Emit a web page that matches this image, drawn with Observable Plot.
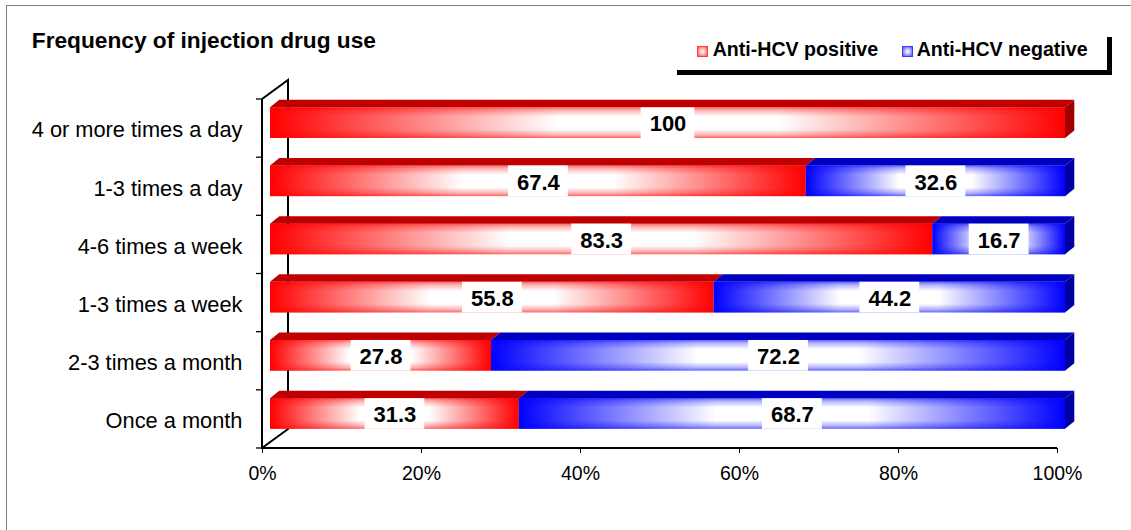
<!DOCTYPE html>
<html>
<head>
<meta charset="utf-8">
<script src="https://cdn.jsdelivr.net/npm/d3@7"></script>
<script src="https://cdn.jsdelivr.net/npm/@observablehq/plot@0.6"></script>
<style>
html, body { margin: 0; padding: 0; background: #fff; }
#wrap { position: relative; width: 1131px; height: 530px; overflow: hidden; background: #fff;
  font-family: "Liberation Sans", Arial, sans-serif; color: #000; }
#frame { position: absolute; left: 5.5px; top: 5px; width: 1300px; height: 700px;
  border-top: 1.6px solid #808080; border-left: 1.6px solid #808080; }
#chart { position: absolute; left: 0; top: 0; }
#title { position: absolute; left: 31.8px; top: 29.3px; font-size: 22.7px; line-height: 22.7px;
  font-weight: bold; white-space: nowrap; }
.lg-text { position: absolute; top: 40.4px; font-size: 19.6px; line-height: 19.6px; font-weight: bold; white-space: nowrap; }
.lg-mark { position: absolute; top: 46px; width: 11px; height: 11px; box-sizing: border-box; }
.lg-line { position: absolute; background: #000; }
</style>
</head>
<body>
<div id="wrap">
  <div id="frame"></div>
  <div id="chart"></div>
  <div id="title">Frequency of injection drug use</div>
  <div id="legend"></div>
</div>
<script>
// ---- data ----
const categories = ["4 or more times a day", "1-3 times a day", "4-6 times a week", "1-3 times a week", "2-3 times a month", "Once a month"];
const positive = [100, 67.4, 83.3, 55.8, 27.8, 31.3];
const negative = [0, 32.6, 16.7, 44.2, 72.2, 68.7];
const seriesNames = ["Anti-HCV positive", "Anti-HCV negative"];
const xTicks = [0, 20, 40, 60, 80, 100];

// ---- style constants ----
const front = ["#ff0000", "#0000ff"];
const topC = ["#c00000", "#0000c0"];
const sideC = ["#a00000", "#0000a0"];
const DX = 8, DEPTH_X = 9.3, DEPTH_Y = 7.5, WALL_X = 26, WALL_Y = 19;
const INSET_TOP = 8.3, INSET_BOTTOM = 19.2;
const LABEL_FONT = 22;
const FONT = '"Liberation Sans", Arial, sans-serif';

const segs = categories.flatMap((c, i) => [
  {cat: c, s: 0, x1: 0, x2: positive[i], value: positive[i]},
  {cat: c, s: 1, x1: positive[i], x2: positive[i] + negative[i], value: negative[i]}
]).filter(d => d.value > 0);
const posSeg = segs.filter(d => d.s === 0);
const negSeg = segs.filter(d => d.s === 1);

const bwOf = y => typeof y.bandwidth === "function" ? y.bandwidth() : y.bandwidth;

function defs() {
  const g = d3.create("svg:defs");
  ["red", "blue"].forEach((name, k) => {
    const h = g.append("linearGradient").attr("id", "h" + name).attr("x1", 0).attr("y1", 0).attr("x2", 1).attr("y2", 0);
    [[0, front[k], 1], [0.36, "#ffffff", 1], [0.64, "#ffffff", 1], [1, front[k], 1]].forEach(([o, c, a]) =>
      h.append("stop").attr("offset", o).attr("stop-color", c).attr("stop-opacity", a));
    const v = g.append("linearGradient").attr("id", "v" + name).attr("x1", 0).attr("y1", 0).attr("x2", 0).attr("y2", 1);
    [[0, front[k], 0.6], [0.1, front[k], 0.3], [0.3, front[k], 0], [0.72, front[k], 0], [0.9, front[k], 0.3], [1, front[k], 0.6]].forEach(([o, c, a]) =>
      v.append("stop").attr("offset", o).attr("stop-color", c).attr("stop-opacity", a));
  });
  return g.node();
}

function walls(index, scales) {
  const x = scales.x, y = scales.y, bw = bwOf(y);
  const x0 = x(0), yT = y(categories[0]), yB = y(categories[categories.length - 1]) + bw;
  const g = d3.create("svg:g");
  g.append("path")
    .attr("d", `M${x0},${yT}L${x0 + WALL_X},${yT - WALL_Y}L${x0 + WALL_X},${yB - WALL_Y}L${x0},${yB}`)
    .attr("fill", "none").attr("stroke", "#000").attr("stroke-width", 2);
  return g.node();
}

function faces(index, scales) {
  const x = scales.x, y = scales.y, bw = bwOf(y);
  const g = d3.create("svg:g");
  for (const d of segs) {
    const yt = y(d.cat) + INSET_TOP;
    const xa = x(d.x1) + DX, xb = x(d.x2) + DX;
    g.append("path")
      .attr("d", `M${xa},${yt}L${xb},${yt}L${xb + DEPTH_X},${yt - DEPTH_Y}L${xa + DEPTH_X},${yt - DEPTH_Y}Z`)
      .attr("fill", topC[d.s]);
  }
  categories.forEach((c, i) => {
    const total = positive[i] + negative[i];
    const s = negative[i] > 0 ? 1 : 0;
    const yt = y(c) + INSET_TOP, yb = y(c) + bw - INSET_BOTTOM;
    const xb = x(total) + DX;
    g.append("path")
      .attr("d", `M${xb},${yt}L${xb + DEPTH_X},${yt - DEPTH_Y}L${xb + DEPTH_X},${yb - DEPTH_Y}L${xb},${yb}Z`)
      .attr("fill", sideC[s]);
  });
  return g.node();
}

function axesFront(index, scales) {
  const x = scales.x, y = scales.y, bw = bwOf(y);
  const x0 = x(0), x1 = x(100);
  const yT = y(categories[0]), yB = y(categories[categories.length - 1]) + bw;
  const g = d3.create("svg:g").attr("stroke", "#000");
  g.append("line").attr("x1", x0).attr("x2", x0).attr("y1", yT).attr("y2", yB).attr("stroke-width", 2);
  g.append("line").attr("x1", x0 - 1).attr("x2", x1).attr("y1", yB).attr("y2", yB).attr("stroke-width", 2);
  const bounds = categories.map(c => y(c)).concat([yB]);
  bounds.forEach(b => g.append("line").attr("x1", x0 - 6).attr("x2", x0).attr("y1", b).attr("y2", b).attr("stroke-width", 1.3));
  return g.node();
}

const ctx = document.createElement("canvas").getContext("2d");
ctx.font = `bold ${LABEL_FONT}px ${FONT}`;
function labelBoxes(index, scales) {
  const x = scales.x, y = scales.y, bw = bwOf(y);
  const g = d3.create("svg:g").attr("fill", "#fff");
  for (const d of segs) {
    const w = ctx.measureText(String(d.value)).width + 17;
    const cx = x((d.x1 + d.x2) / 2) + DX;
    const yt = y(d.cat) + INSET_TOP;
    g.append("rect").attr("x", cx - w / 2).attr("y", yt).attr("width", w)
      .attr("height", bw - INSET_TOP - INSET_BOTTOM);
  }
  return g.node();
}

const plot = Plot.plot({
  width: 1131,
  height: 530,
  marginLeft: 262,
  marginRight: 74,
  marginTop: 99,
  marginBottom: 82,
  style: {fontFamily: FONT, fontSize: "19.5px", color: "#000", background: "transparent", overflow: "visible"},
  x: {domain: [0, 100], ticks: xTicks, tickFormat: d => d + "%", tickSize: 5, tickPadding: 12.5, label: null, line: false},
  y: {domain: categories, type: "band", padding: 0, round: false, axis: null},
  marks: [
    defs,
    walls,
    Plot.barX(posSeg, {x1: "x1", x2: "x2", y: "cat", fill: "url(#hred)", insetTop: INSET_TOP, insetBottom: INSET_BOTTOM, dx: DX}),
    Plot.barX(negSeg, {x1: "x1", x2: "x2", y: "cat", fill: "url(#hblue)", insetTop: INSET_TOP, insetBottom: INSET_BOTTOM, dx: DX}),
    Plot.barX(posSeg, {x1: "x1", x2: "x2", y: "cat", fill: "url(#vred)", insetTop: INSET_TOP, insetBottom: INSET_BOTTOM, dx: DX}),
    Plot.barX(negSeg, {x1: "x1", x2: "x2", y: "cat", fill: "url(#vblue)", insetTop: INSET_TOP, insetBottom: INSET_BOTTOM, dx: DX}),
    faces,
    axesFront,
    labelBoxes,
    Plot.text(segs, {x: d => (d.x1 + d.x2) / 2, y: "cat", text: d => String(d.value), dx: DX, dy: -4.2,
      fontWeight: "bold", fontSize: LABEL_FONT, fill: "#000"}),
    Plot.text(categories, {y: d => d, text: d => d, frameAnchor: "left", textAnchor: "end", dx: -20, dy: 1.8,
      fontSize: 21.8, fill: "#000"})
  ]
});
document.getElementById("chart").appendChild(plot);

// ---- legend ----
const legend = document.getElementById("legend");
const lgPos = [{mark: 697, text: 712.7}, {mark: 902, text: 916.7}];
seriesNames.forEach((name, k) => {
  const m = document.createElement("div");
  m.className = "lg-mark";
  m.style.left = lgPos[k].mark + "px";
  m.style.background = `radial-gradient(circle, #ffffff 0%, ${k ? "#c8c8ff" : "#ffc8c8"} 35%, ${k ? "#5050ff" : "#ff5050"} 100%)`;
  m.style.border = `1.5px solid ${k ? "#3a3aff" : "#ff3a3a"}`;
  legend.appendChild(m);
  const t = document.createElement("div");
  t.className = "lg-text";
  t.style.left = lgPos[k].text + "px";
  t.textContent = name;
  legend.appendChild(t);
});
const l1 = document.createElement("div");
l1.className = "lg-line";
Object.assign(l1.style, {left: "677px", top: "70px", width: "434.7px", height: "4.5px"});
const l2 = document.createElement("div");
l2.className = "lg-line";
Object.assign(l2.style, {left: "1106.5px", top: "37px", width: "5.2px", height: "37.5px"});
legend.appendChild(l1);
legend.appendChild(l2);
</script>
</body>
</html>
